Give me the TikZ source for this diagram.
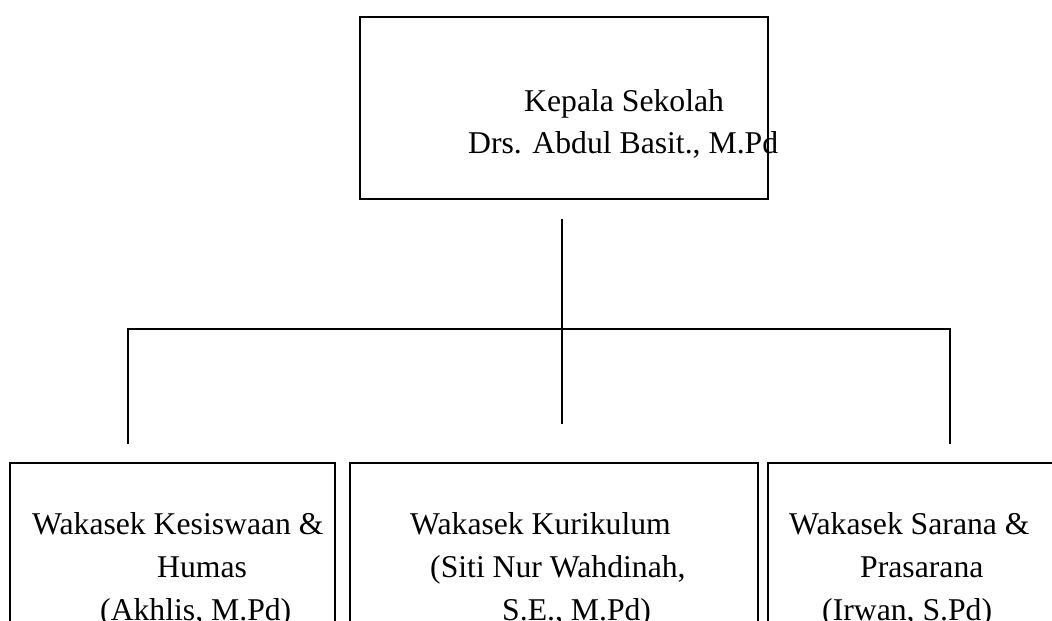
\documentclass[tikz,border=0pt]{standalone}
\usepackage{fontspec}
\setmainfont{Liberation Serif}
\begin{document}
\begin{tikzpicture}[x=1pt,y=-1pt,
  box/.style={draw=black,line width=1.6pt,rectangle,inner sep=0pt,outer sep=0pt},
  txt/.style={anchor=base west,inner sep=0pt,font=\fontsize{31.7}{43}\selectfont},
  conn/.style={draw=black,line width=1.6pt}]
\useasboundingbox (0,0) rectangle (1052,621);
\clip (0,0) rectangle (1052,621);
% boxes
\node[box,minimum width=408pt,minimum height=182pt] (kepsek) at (564,108) {};
\node[box,minimum width=325pt,minimum height=200pt] (kesiswaan) at (172.5,563) {};
\node[box,minimum width=408pt,minimum height=200pt] (kurikulum) at (554,563) {};
\node[box,minimum width=320pt,minimum height=200pt] (sarana) at (928,563) {};
% texts
\node[txt] (t1) at (524,111) {Kepala Sekolah};
\node[txt] (t2) at (468,153) {Drs. Abdul Basit., M.Pd};
\node[txt] (l1) at (32,534) {Wakasek Kesiswaan \&};
\node[txt] (l2) at (157,577) {Humas};
\node[txt] (l3) at (100,620) {(Akhlis, M.Pd)};
\node[txt] (m1) at (410,534) {Wakasek Kurikulum};
\node[txt] (m2) at (430,577) {(Siti Nur Wahdinah,};
\node[txt] (m3) at (502,620) {S.E., M.Pd)};
\node[txt] (r1) at (789,534) {Wakasek Sarana \&};
\node[txt] (r2) at (860,577) {Prasarana};
\node[txt] (r3) at (822,620) {(Irwan, S.Pd)};
% connectors
\coordinate (vtop) at (562,219);
\coordinate (vbot) at (562,424);
\coordinate (hl) at (128,329);
\coordinate (hr) at (950,329);
\coordinate (dl) at (128,444);
\coordinate (dr) at (950,444);
\draw[conn] (vtop) -- (vbot);
\draw[conn] (dl) -- (hl) -- (hr) -- (dr);
\end{tikzpicture}
\end{document}
